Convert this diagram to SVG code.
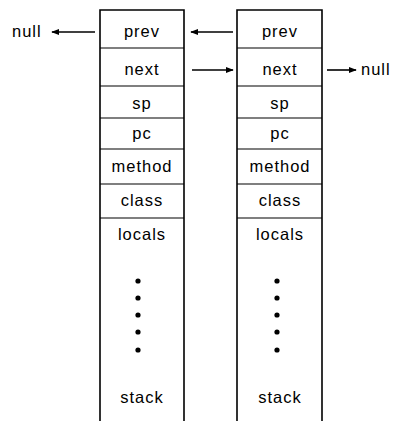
<svg xmlns="http://www.w3.org/2000/svg" width="408" height="421" viewBox="0 0 408 421">
<style>
.b{fill:none;stroke:#000;stroke-width:1.6}
.d{stroke:#000;stroke-width:1.2}
text{font-family:"Liberation Sans",Arial,sans-serif;font-size:16.5px;letter-spacing:1px;fill:#000}
.c{text-anchor:middle}
.a{stroke:#000;stroke-width:1.6;fill:none}
</style>
<defs>
<marker id="ah" viewBox="0 0 10 10" refX="9" refY="5" markerWidth="8" markerHeight="8" markerUnits="userSpaceOnUse" orient="auto">
<path d="M0,1 L10,5 L0,9 z" fill="#000"/>
</marker>
</defs>
<g id="frame1">
<path class="b" d="M100,421 V10 H184 V421"/>
<path class="d" d="M100,48 H184 M100,86 H184 M100,118 H184 M100,149 H184 M100,184 H184 M100,218 H184"/>
<text class="c" x="142" y="37">prev</text>
<text class="c" x="142" y="75">next</text>
<text class="c" x="142" y="109">sp</text>
<text class="c" x="142" y="139">pc</text>
<text class="c" x="142" y="172">method</text>
<text class="c" x="142" y="206">class</text>
<text class="c" x="142" y="240">locals</text>
<g fill="#000"><circle cx="138" cy="281" r="2.6"/><circle cx="138" cy="298" r="2.6"/><circle cx="138" cy="315" r="2.6"/><circle cx="138" cy="332" r="2.6"/><circle cx="138" cy="350" r="2.6"/></g>
<text class="c" x="142" y="403">stack</text>
</g>
<g id="frame2">
<path class="b" d="M237,421 V10 H322 V421"/>
<path class="d" d="M237,48 H322 M237,86 H322 M237,118 H322 M237,149 H322 M237,184 H322 M237,218 H322"/>
<text class="c" x="280" y="37">prev</text>
<text class="c" x="280" y="75">next</text>
<text class="c" x="280" y="109">sp</text>
<text class="c" x="280" y="139">pc</text>
<text class="c" x="280" y="172">method</text>
<text class="c" x="280" y="206">class</text>
<text class="c" x="280" y="240">locals</text>
<g fill="#000"><circle cx="277" cy="281" r="2.6"/><circle cx="277" cy="298" r="2.6"/><circle cx="277" cy="315" r="2.6"/><circle cx="277" cy="332" r="2.6"/><circle cx="277" cy="350" r="2.6"/></g>
<text class="c" x="280" y="403">stack</text>
</g>
<g id="null-left"><text x="12" y="37">null</text></g>
<g id="null-right"><text x="361" y="75">null</text></g>
<g id="connectors">
<line class="a" x1="95" y1="32" x2="52" y2="32" marker-end="url(#ah)"/>
<line class="a" x1="233" y1="32" x2="191" y2="32" marker-end="url(#ah)"/>
<line class="a" x1="192" y1="70" x2="233" y2="70" marker-end="url(#ah)"/>
<line class="a" x1="327" y1="70" x2="356" y2="70" marker-end="url(#ah)"/>
</g>
</svg>
